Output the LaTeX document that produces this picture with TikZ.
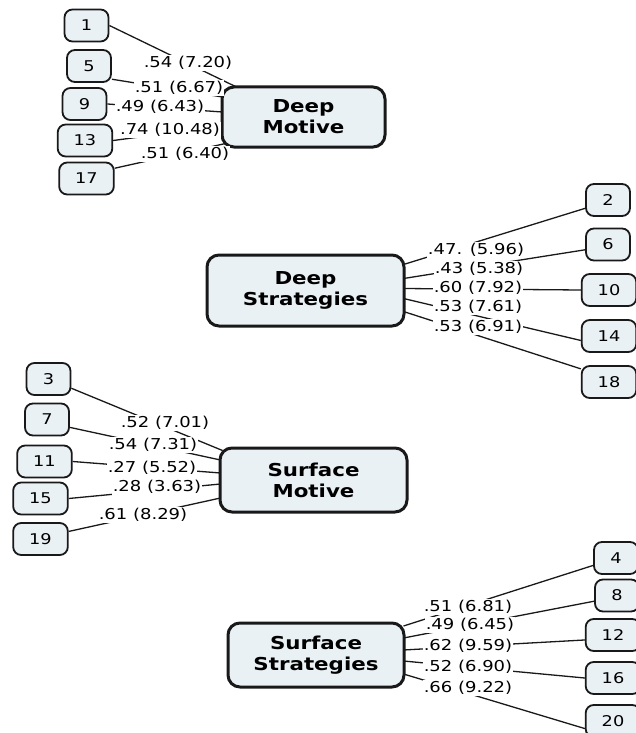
\documentclass[tikz,border=0pt]{standalone}
\usepackage{fontspec}
\setmainfont{DejaVu Sans}[FakeStretch=1.2]
\usetikzlibrary{calc}
\definecolor{boxfill}{RGB}{234,241,245}
\definecolor{ink}{RGB}{25,25,25}
\pgfdeclarelayer{bg}
\pgfsetlayers{bg,main}
\begin{document}
\begin{tikzpicture}[x=1pt,y=-1pt,
  item/.style={draw=ink, line width=1.8pt, rounded corners=8pt, fill=boxfill,
    minimum width=44pt, minimum height=32pt, inner xsep=16pt,
    font=\fontsize{14.8}{17}\selectfont},
  factor/.style={draw=ink, line width=3pt, rounded corners=12pt, fill=boxfill,
    align=center, font=\fontsize{17.8}{21}\selectfont\bfseries},
  conn/.style={draw=ink, line width=1.3pt},
  lab/.style={fill=white, inner sep=1pt, font=\fontsize{15}{17}\selectfont}]
\useasboundingbox (0,0) rectangle (635,733);

% factor boxes
\node[factor, minimum width=163pt, minimum height=60pt] (dm) at (303.5,117) {Deep\\Motive};
\node[factor, minimum width=197pt, minimum height=71pt] (ds) at (305.5,290.5) {Deep\\Strategies};
\node[factor, minimum width=187pt, minimum height=64pt] (sm) at (313.5,480) {Surface\\Motive};
\node[factor, minimum width=176pt, minimum height=64pt] (ss) at (316,655) {Surface\\Strategies};

% items
\node[item] (i1) at (86.5,25.5) {1};
\node[item] (i5) at (89,66) {5};
\node[item] (i9) at (84.5,104) {9};
\node[item] (i13) at (85,140.5) {13};
\node[item] (i17) at (86.5,178.5) {17};

\node[item] (i2) at (608,200) {2};
\node[item] (i6) at (608,244.5) {6};
\node[item] (i10) at (609,290) {10};
\node[item] (i14) at (609,336) {14};
\node[item] (i18) at (609,382) {18};

\node[item] (i3) at (48.5,379) {3};
\node[item] (i7) at (47,419.5) {7};
\node[item] (i11) at (44.5,461.5) {11};
\node[item] (i15) at (40.5,498.5) {15};
\node[item] (i19) at (40.5,539) {19};

\node[item] (i4) at (616,558) {4};
\node[item] (i8) at (617,595.5) {8};
\node[item] (i12) at (613,635) {12};
\node[item] (i16) at (613,678) {16};
\node[item] (i20) at (613,721) {20};

% connectors
\begin{pgfonlayer}{bg}
\draw[conn] (i1.east) -- ($(dm.north west)+(17,2)$);
\draw[conn] (i5.-30) -- ($(dm.west)+(2,-20)$);
\draw[conn] (i9.east) -- ($(dm.west)+(2,-5)$);
\draw[conn] (i13.east) -- ($(dm.west)+(2,9)$);
\draw[conn] (i17.20) -- ($(dm.south west)+(5,-5)$);

\draw[conn] ($(ds.east)+(-2,-26)$) -- (i2.200);
\draw[conn] ($(ds.east)+(-2,-12)$) -- (i6.193);
\draw[conn] ($(ds.east)+(-2,-2)$) -- (i10.west);
\draw[conn] ($(ds.east)+(-2,8)$) -- (i14.189);
\draw[conn] ($(ds.east)+(-2,21)$) -- (i18.155);

\draw[conn] (i3.-22) -- ($(sm.north west)+(4,4)$);
\draw[conn] (i7.-19) -- ($(sm.west)+(2,-20)$);
\draw[conn] (i11.east) -- ($(sm.west)+(2,-7)$);
\draw[conn] (i15.east) -- ($(sm.west)+(2,4)$);
\draw[conn] (i19.15) -- ($(sm.west)+(2,18)$);

\draw[conn] ($(ss.east)+(-2,-29)$) -- (i4.198);
\draw[conn] ($(ss.east)+(-2,-17)$) -- (i8.194);
\draw[conn] ($(ss.east)+(-2,-5)$) -- (i12.190);
\draw[conn] ($(ss.east)+(-2,6)$) -- (i16.west);
\draw[conn] ($(ss.east)+(-2,19)$) -- (i20.195);
\end{pgfonlayer}

% labels
\node[lab] (l1) at (188,63) {.54 (7.20)};
\node[lab] (l5) at (179,88) {.51 (6.67)};
\node[lab] (l9) at (160,107) {.49 (6.43)};
\node[lab] (l13) at (170,130) {.74 (10.48)};
\node[lab] (l17) at (185,154) {.51 (6.40)};

\node[lab] (l2) at (476,250) {.47. (5.96)};
\node[lab] (l6) at (479,269) {.43 (5.38)};
\node[lab] (l10) at (478,288) {.60 (7.92)};
\node[lab] (l14) at (478,307) {.53 (7.61)};
\node[lab] (l18) at (478,327) {.53 (6.91)};

\node[lab] (l3) at (165,423) {.52 (7.01)};
\node[lab] (l7) at (153,445) {.54 (7.31)};
\node[lab] (l11) at (152,468) {.27 (5.52)};
\node[lab] (l15) at (157,487) {.28 (3.63)};
\node[lab] (l19) at (143,515) {.61 (8.29)};

\node[lab] (l4) at (468,607) {.51 (6.81)};
\node[lab] (l8) at (470,625) {.49 (6.45)};
\node[lab] (l12) at (468,646) {.62 (9.59)};
\node[lab] (l16) at (468,667) {.52 (6.90)};
\node[lab] (l20) at (468,688) {.66 (9.22)};
\end{tikzpicture}
\end{document}
